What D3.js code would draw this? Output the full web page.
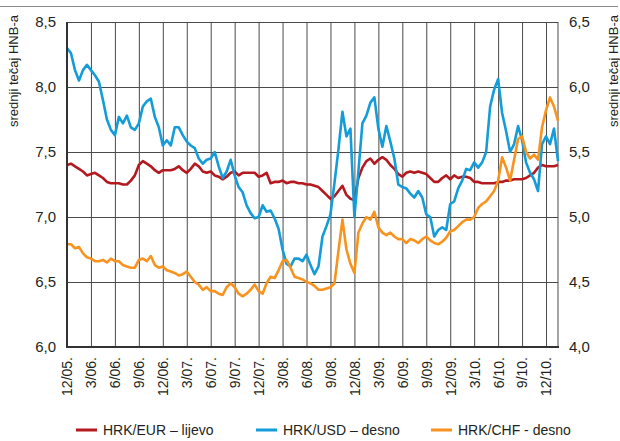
<!DOCTYPE html>
<html><head><meta charset="utf-8">
<script src="https://cdn.jsdelivr.net/npm/d3@7"></script>
<style>
body{margin:0;background:#fff}
svg{display:block}
text{font-family:"Liberation Sans",Arial,sans-serif;fill:#231f20}
</style>
</head><body>
<svg id="c" width="620" height="441"></svg>
<script>
// Quarter tick labels (every 3 months from Dec 2005)
const quarterLabels = ["12/05.","3/06.","6/06.","9/06.","12/06.","3/07.","6/07.","9/07.","12/07.","3/08.","6/08.","9/08.","12/08.","3/09.","6/09.","9/09.","12/09.","3/10.","6/10.","9/10.","12/10."];
// sampling positions in months since Dec 2005 (half-month steps)
const months = d3.range(0, 62, 0.5);

// HRK/EUR – left axis
const eur = [
 7.40,7.41,7.39,7.37,7.35,7.32,7.33,7.34,7.32,7.30,7.27,7.26,
 7.26,7.26,7.25,7.25,7.28,7.32,7.40,7.43,7.41,7.39,7.36,7.34,
 7.36,7.36,7.36,7.37,7.39,7.36,7.34,7.37,7.41,7.39,7.35,7.34,
 7.35,7.32,7.31,7.29,7.31,7.34,7.35,7.32,7.34,7.34,7.34,7.34,
 7.31,7.32,7.34,7.26,7.27,7.27,7.28,7.26,7.27,7.27,7.26,7.26,
 7.25,7.25,7.24,7.23,7.20,7.17,7.14,7.16,7.20,7.24,7.17,7.14,
 7.13,7.30,7.38,7.43,7.45,7.41,7.44,7.46,7.44,7.40,7.37,7.33,
 7.31,7.34,7.35,7.34,7.35,7.34,7.33,7.30,7.27,7.27,7.30,7.32,
 7.29,7.32,7.30,7.31,7.31,7.30,7.27,7.27,7.26,7.26,7.26,7.26,
 7.27,7.27,7.28,7.28,7.29,7.29,7.29,7.30,7.32,7.34,7.38,7.40,
 7.39,7.39,7.39,7.40];

// HRK/USD – right axis
const usd = [
 6.30,6.26,6.13,6.05,6.13,6.17,6.13,6.09,6.04,5.90,5.75,5.67,
 5.63,5.77,5.72,5.78,5.69,5.67,5.72,5.85,5.89,5.91,5.77,5.69,
 5.55,5.59,5.55,5.69,5.69,5.63,5.58,5.55,5.53,5.45,5.41,5.44,
 5.45,5.50,5.39,5.30,5.35,5.44,5.32,5.23,5.19,5.09,5.03,4.99,
 5.00,5.09,5.04,5.05,4.99,4.91,4.75,4.64,4.62,4.68,4.68,4.66,
 4.71,4.63,4.56,4.62,4.85,4.93,5.02,5.26,5.52,5.81,5.62,5.68,
 5.00,5.35,5.72,5.78,5.88,5.92,5.68,5.54,5.70,5.58,5.45,5.25,
 5.23,5.22,5.18,5.15,5.20,5.15,5.02,5.00,4.85,4.90,4.92,4.90,
 5.10,5.12,5.22,5.28,5.37,5.36,5.42,5.38,5.42,5.50,5.85,5.98,
 6.06,5.80,5.66,5.50,5.56,5.70,5.59,5.42,5.34,5.29,5.20,5.56,
 5.62,5.56,5.68,5.43];

// HRK/CHF – right axis
const chf = [
 4.79,4.79,4.76,4.77,4.72,4.69,4.68,4.66,4.66,4.67,4.65,4.68,
 4.66,4.66,4.63,4.62,4.61,4.61,4.67,4.68,4.66,4.70,4.63,4.61,
 4.62,4.59,4.58,4.57,4.55,4.56,4.58,4.54,4.50,4.48,4.44,4.46,
 4.43,4.43,4.41,4.40,4.46,4.49,4.46,4.41,4.39,4.41,4.44,4.48,
 4.43,4.41,4.49,4.54,4.53,4.59,4.66,4.67,4.61,4.54,4.53,4.52,
 4.50,4.49,4.47,4.44,4.44,4.45,4.46,4.49,4.74,4.98,4.75,4.64,
 4.57,4.88,4.95,5.00,4.98,5.04,4.92,4.88,4.86,4.88,4.85,4.83,
 4.83,4.80,4.83,4.82,4.80,4.83,4.85,4.82,4.80,4.79,4.81,4.84,
 4.89,4.90,4.93,4.96,4.98,4.98,5.00,5.07,5.10,5.12,5.16,5.20,
 5.28,5.46,5.38,5.28,5.44,5.60,5.62,5.50,5.45,5.48,5.44,5.69,
 5.82,5.92,5.85,5.74];

const leftTicks = [6.0,6.5,7.0,7.5,8.0,8.5];
const rightTicks = [4.0,4.5,5.0,5.5,6.0,6.5];
const seriesNames = ["HRK/EUR – lijevo","HRK/USD – desno","HRK/CHF - desno"];
const colors = ["#b3191f","#139cd8","#f7931e"];

const L = 67, R = 558, T = 22, B = 347;
const svg = d3.select("#c");
const x = d3.scaleLinear().domain([0, 61.5]).range([L, R]);
const yL = d3.scaleLinear().domain([6, 8.5]).range([B, T]);
const yR = d3.scaleLinear().domain([4, 6.5]).range([B, T]);
const fmt = d => d.toFixed(1).replace(".", ",");
const qIdx = quarterLabels.map((d,i) => i*3);

// top rule
svg.append("line").attr("x1",0).attr("x2",618).attr("y1",6.5).attr("y2",6.5)
  .attr("stroke","#8a8a8a").attr("stroke-width",1);

// vertical grid
const gv = svg.append("g").attr("transform",`translate(0,${B})`)
  .call(d3.axisBottom(x).tickValues(qIdx).tickSize(-(B-T)).tickFormat(""));
gv.select(".domain").remove();
gv.selectAll("line").attr("stroke","#4a4a4a").attr("stroke-width",1);
// horizontal grid
const gh = svg.append("g").attr("transform",`translate(${L},0)`)
  .call(d3.axisLeft(yL).tickValues(leftTicks).tickSize(-(R-L)).tickFormat(""));
gh.select(".domain").remove();
gh.selectAll("line").attr("stroke","#4a4a4a").attr("stroke-width",1);
// right border
svg.append("line").attr("x1",R).attr("x2",R).attr("y1",T).attr("y2",B).attr("stroke","#4a4a4a");

// series
const lineL = d3.line().x((d,i)=>x(months[i])).y(d=>yL(d));
const lineR = d3.line().x((d,i)=>x(months[i])).y(d=>yR(d));
svg.append("path").datum(eur).attr("d",lineL).attr("fill","none").attr("stroke",colors[0]).attr("stroke-width",2.6).attr("stroke-linejoin","round");
svg.append("path").datum(usd).attr("d",lineR).attr("fill","none").attr("stroke",colors[1]).attr("stroke-width",2.6).attr("stroke-linejoin","round");
svg.append("path").datum(chf).attr("d",lineR).attr("fill","none").attr("stroke",colors[2]).attr("stroke-width",2.6).attr("stroke-linejoin","round");

// axis lines
svg.append("line").attr("x1",L).attr("x2",L).attr("y1",T).attr("y2",B+1).attr("stroke","#333").attr("stroke-width",2);
svg.append("line").attr("x1",L-1).attr("x2",R+1).attr("y1",B).attr("y2",B).attr("stroke","#333").attr("stroke-width",2);

// left tick labels
const al = svg.append("g").attr("transform",`translate(${L},0)`)
  .call(d3.axisLeft(yL).tickValues(leftTicks).tickSize(0).tickPadding(11).tickFormat(fmt));
al.select(".domain").remove();
al.selectAll("text").attr("font-size",15).attr("fill","#231f20").attr("font-family","Liberation Sans, Arial, sans-serif");
// right tick labels
const ar = svg.append("g").attr("transform",`translate(${R},0)`)
  .call(d3.axisRight(yR).tickValues(rightTicks).tickSize(0).tickPadding(11).tickFormat(fmt));
ar.select(".domain").remove();
ar.selectAll("text").attr("font-size",15).attr("fill","#231f20").attr("font-family","Liberation Sans, Arial, sans-serif");
// bottom labels
const ab = svg.append("g").attr("transform",`translate(0,${B})`)
  .call(d3.axisBottom(x).tickValues(qIdx).tickSize(0).tickFormat((d,i)=>quarterLabels[i]));
ab.select(".domain").remove();
ab.selectAll("text").attr("transform","rotate(-90)").attr("text-anchor","end")
  .attr("x",-10).attr("y",0).attr("dy","0.35em")
  .attr("font-size",14).attr("fill","#231f20").attr("font-family","Liberation Sans, Arial, sans-serif");

// axis titles
svg.append("text").attr("transform","translate(18,71) rotate(-90)").attr("text-anchor","middle")
  .attr("font-size",13).text("srednji tečaj HNB-a");
svg.append("text").attr("transform","translate(618,71) rotate(-90)").attr("text-anchor","middle")
  .attr("font-size",13).text("srednji tečaj HNB-a");

// legend
const legX = [76, 256, 431];
const leg = svg.append("g");
seriesNames.forEach((n,i)=>{
  leg.append("line").attr("x1",legX[i]).attr("x2",legX[i]+21).attr("y1",430).attr("y2",430)
    .attr("stroke",colors[i]).attr("stroke-width",3);
  leg.append("text").attr("x",legX[i]+27).attr("y",430).attr("dy","0.35em")
    .attr("font-size",14).text(n);
});
</script>
</body></html>
